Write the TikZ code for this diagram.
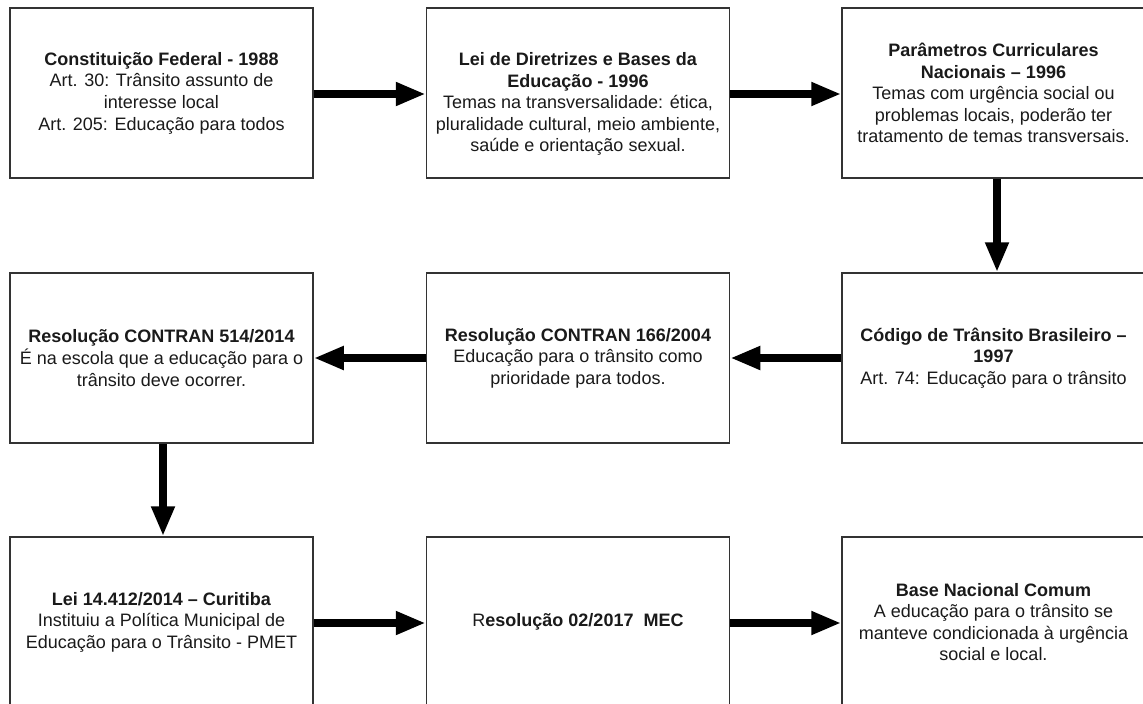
\documentclass[tikz,border=0pt]{standalone}
\usepackage{fontspec}
\setmainfont{Liberation Sans}
\usetikzlibrary{arrows.meta}
\definecolor{bordercol}{HTML}{333333}
\definecolor{textcol}{HTML}{1A1A1A}
\begin{document}
\begin{tikzpicture}[x=1pt,y=-1pt,
  box/.style={draw=bordercol, line width=1.5pt, minimum width=303pt, minimum height=170pt,
    inner sep=0pt, align=center, text=textcol, font=\fontsize{18}{21.6}\selectfont},
  txt/.style={inner sep=0pt, align=center, text=textcol, font=\fontsize{18}{21.6}\selectfont},
  flow/.style={line width=8pt, draw=black, -{Triangle[length=30pt,width=22pt]}}]
\useasboundingbox (0,0) rectangle (1143,704);
\clip (0,0) rectangle (1143,704);
\fill[white] (0,0) rectangle (1143,704);

% row 1
\node[box] (b1) at (161.5,93) {\textbf{Constituição Federal - 1988}\\Art. 30: Trânsito assunto de\\interesse local\\Art. 205: Educação para todos};
\node[box] (b2) at (578,93) {};
\node[txt] (t2) at (578,104) {\textbf{Lei de Diretrizes e Bases da}\\\textbf{Educação - 1996}\\Temas na transversalidade: ética,\\pluralidade cultural, meio ambiente,\\saúde e orientação sexual.};
\node[box] (b3) at (993.5,93) {\textbf{Parâmetros Curriculares}\\\textbf{Nacionais – 1996}\\Temas com urgência social ou\\problemas locais, poderão ter\\tratamento de temas transversais.};

% row 2
\node[box] (b4) at (161.5,358) {\textbf{Resolução CONTRAN 514/2014}\\É na escola que a educação para o\\trânsito deve ocorrer.};
\node[box] (b5) at (578,358) {\textbf{Resolução CONTRAN 166/2004}\\Educação para o trânsito como\\prioridade para todos.};
\node[box] (b6) at (993.5,358) {\textbf{Código de Trânsito Brasileiro –}\\\textbf{1997}\\Art. 74: Educação para o trânsito};

% row 3
\node[box] (b7) at (161.5,622) {\textbf{Lei 14.412/2014 – Curitiba}\\Instituiu a Política Municipal de\\Educação para o Trânsito - PMET};
\node[box] (b8) at (578,622) {R\textbf{esolução 02/2017\ \ MEC}};
\node[box] (b9) at (993.5,622) {\textbf{Base Nacional Comum}\\A educação para o trânsito se\\manteve condicionada à urgência\\social e local.};

% connectors
\draw[flow] ([yshift=-1pt]b1.east) -- ([yshift=-1pt]b2.west);
\draw[flow] ([yshift=-1pt]b2.east) -- ([yshift=-1pt]b3.west);
\draw[flow] ([xshift=3.5pt]b3.south) -- ([xshift=3.5pt]b6.north);
\draw[flow] (b6.west) -- (b5.east);
\draw[flow] (b5.west) -- (b4.east);
\draw[flow] ([xshift=1.5pt]b4.south) -- ([xshift=1.5pt]b7.north);
\draw[flow] ([yshift=-1pt]b7.east) -- ([yshift=-1pt]b8.west);
\draw[flow] ([yshift=-1pt]b8.east) -- ([yshift=-1pt]b9.west);
\end{tikzpicture}
\end{document}
